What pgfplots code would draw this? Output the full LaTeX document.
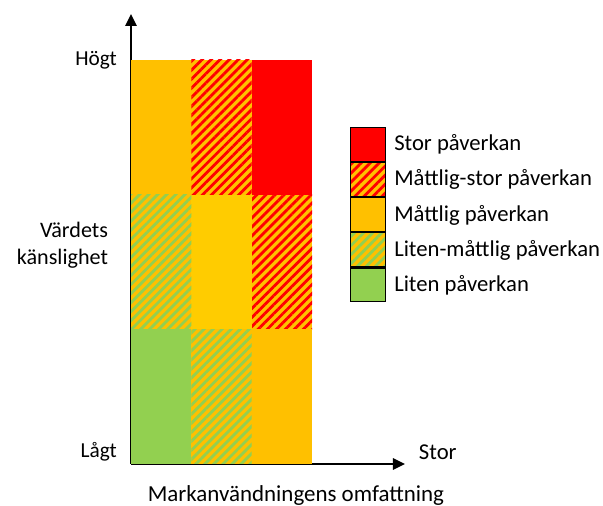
\documentclass[border=0pt]{standalone}
\usepackage{fontspec}
\setmainfont{Carlito}
\usepackage{pgfplots}
\pgfplotsset{compat=1.18}
\usetikzlibrary{patterns.meta,arrows.meta}
\definecolor{cRed}{HTML}{FF0000}
\definecolor{cOr}{HTML}{FFC000}
\definecolor{cYe}{HTML}{FFCC00}
\definecolor{cGr}{HTML}{92D050}
\tikzset{
  stor/.style={fill=cRed, draw=none},
  mstor/.style={fill=cOr, draw=none, postaction={pattern={Lines[angle=45,distance=4.8pt,line width=2.1pt]}, pattern color=cRed}},
  matt/.style={fill=cOr, draw=none},
  lmatt/.style={fill=cOr, draw=none, postaction={pattern={Lines[angle=45,distance=4.8pt,line width=2.1pt]}, pattern color=cGr}},
  liten/.style={fill=cGr, draw=none},
}
\begin{document}
\fontsize{16}{19.5}\selectfont
\begin{tikzpicture}
\path (0,0) rectangle (452.25pt,379.5pt);
\begin{axis}[
  at={(98.25pt,31.5pt)}, anchor=south west,
  scale only axis, width=205.5pt, height=337.5pt,
  xmin=0, xmax=4.54, ymin=0, ymax=3.34,
  enlargelimits=false,
  axis x line*=bottom, axis y line*=left,
  axis line style={line width=1.5pt, -{Triangle[length=9pt,width=8.5pt]}},
  xtick=\empty,
  ytick={0.09,3}, yticklabels={Lågt,Högt},
  major tick length=0pt,
  yticklabel style={anchor=east, inner sep=0pt, xshift=-10.5pt},
  xlabel={Markanvändningens omfattning},
  xlabel style={at={(axis description cs:0.602,-0.069)}, anchor=center, inner sep=0pt, font=\fontsize{17.2}{20}\selectfont},
  ylabel={Värdets\\känslighet},
  ylabel style={rotate=-90, align=right, anchor=east, inner sep=0pt, at={(axis description cs:-0.083,0.486)}, font=\fontsize{16.6}{20}\selectfont},
  legend cell align=left,
  legend style={at={(axis description cs:0.799,0.749)}, anchor=north west, draw=none, fill=none,
    inner sep=0pt, outer sep=0pt, row sep=0pt, column sep=6pt, nodes={inner sep=0pt},
    font=\fontsize{17}{20}\selectfont},
  legend image code/.code={\path[#1] (0pt,-12.65pt) rectangle (26.25pt,12.65pt);
    \begin{pgfscope}
    \pgfpathrectanglecorners{\pgfpoint{0pt}{-12.65pt}}{\pgfpoint{26.25pt}{12.65pt}}%
    \pgfsetlinewidth{1pt}\pgfsetstrokecolor{black}\pgfusepath{stroke}%
    \end{pgfscope}},
  clip=false,
]
% Stor påverkan
\addplot[stor] coordinates {(2,2) (3,2) (3,3) (2,3)};
\addlegendentry{Stor påverkan}
% Måttlig-stor påverkan
\addplot[mstor] coordinates {(1,2) (2,2) (2,3) (1,3)};
\addlegendentry{Måttlig-stor påverkan}
\addplot[mstor, forget plot] coordinates {(2,1) (3,1) (3,2) (2,2)};
% Måttlig påverkan
\addplot[matt] coordinates {(0,2) (1,2) (1,3) (0,3)};
\addlegendentry{Måttlig påverkan}
\addplot[matt, forget plot] coordinates {(2,0) (3,0) (3,1) (2,1)};
\addplot[fill=cYe, draw=none, forget plot] coordinates {(1,1) (2,1) (2,2) (1,2)};
% Liten-måttlig påverkan
\addplot[lmatt] coordinates {(0,1) (1,1) (1,2) (0,2)};
\addlegendentry{Liten-måttlig påverkan}
\addplot[lmatt, forget plot] coordinates {(1,0) (2,0) (2,1) (1,1)};
% Liten påverkan
\addplot[liten] coordinates {(0,0) (1,0) (1,1) (0,1)};
\addlegendentry{Liten påverkan}
\node[anchor=west, inner sep=0pt, font=\fontsize{17}{20}\selectfont] at (axis description cs:1.05,0.027) {Stor};
\end{axis}
\end{tikzpicture}
\end{document}
